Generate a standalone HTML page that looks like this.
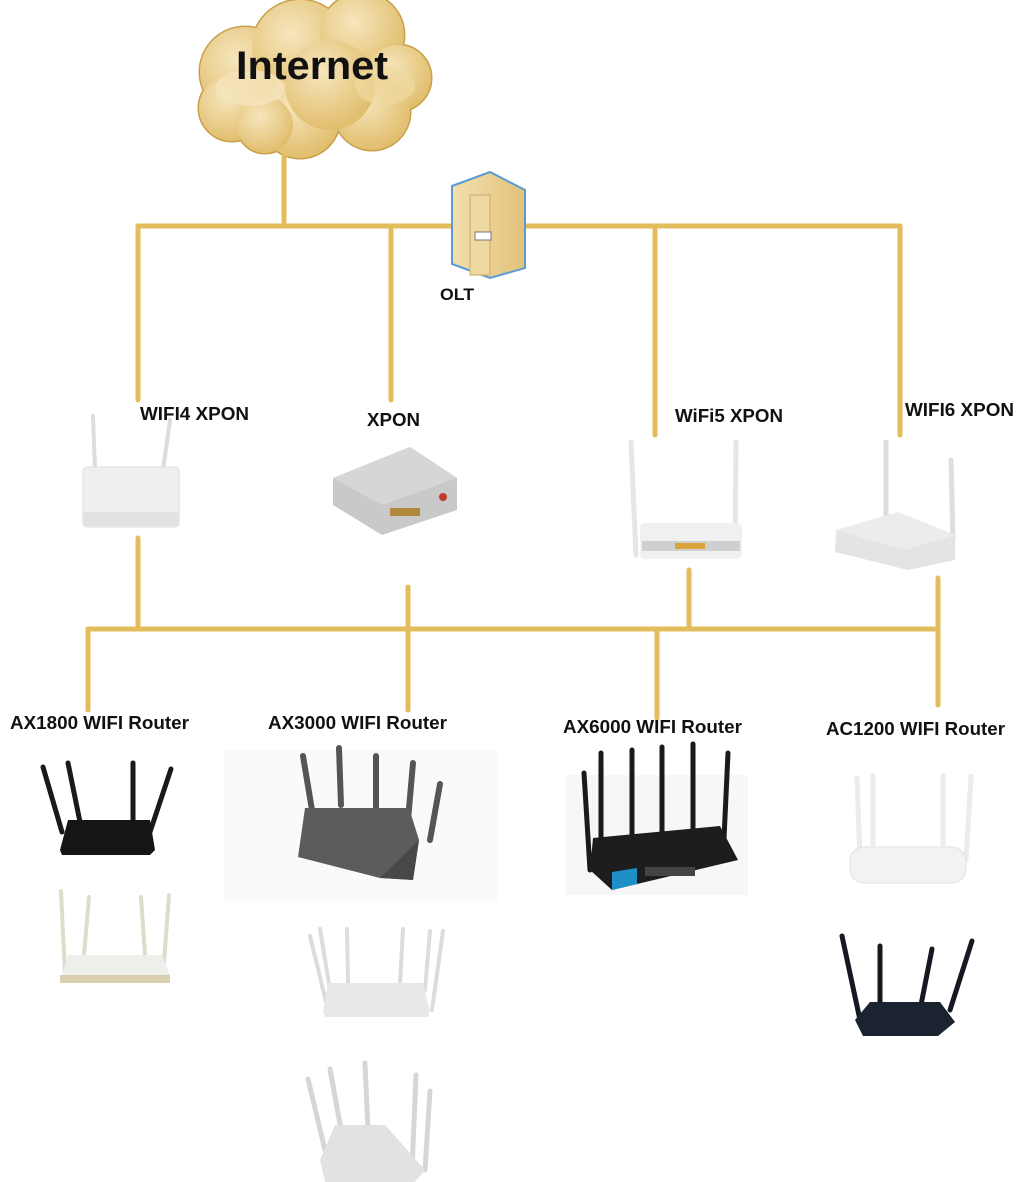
<!DOCTYPE html>
<html><head><meta charset="utf-8"><style>
html,body{margin:0;padding:0;background:#fff;}
svg{display:block}
text{font-family:"Liberation Sans",sans-serif;font-weight:bold;fill:#111}
</style></head><body>
<svg width="1024" height="1182" viewBox="0 0 1024 1182" xmlns="http://www.w3.org/2000/svg">
<defs>
<radialGradient id="cg" cx="0.4" cy="0.35" r="0.7"><stop offset="0" stop-color="#f6e6bd"/><stop offset="1" stop-color="#e0bb68"/></radialGradient>
<linearGradient id="og" x1="0" x2="1"><stop offset="0" stop-color="#f3dfae"/><stop offset="1" stop-color="#e2c27a"/></linearGradient>
</defs>
<!-- cloud -->
<g stroke="#c9a04a" stroke-width="3">
<circle cx="245" cy="72" r="45"/><circle cx="300" cy="48" r="48"/><circle cx="362" cy="35" r="42"/><circle cx="398" cy="78" r="33"/><circle cx="372" cy="112" r="38"/><circle cx="300" cy="118" r="40"/><circle cx="232" cy="108" r="33"/><circle cx="330" cy="85" r="45"/><circle cx="265" cy="125" r="28"/>
</g>
<g fill="url(#cg)">
<circle cx="245" cy="72" r="45"/><circle cx="300" cy="48" r="48"/><circle cx="362" cy="35" r="42"/><circle cx="398" cy="78" r="33"/><circle cx="372" cy="112" r="38"/><circle cx="300" cy="118" r="40"/><circle cx="232" cy="108" r="33"/><circle cx="330" cy="85" r="45"/><circle cx="265" cy="125" r="28"/>
</g>
<ellipse cx="250" cy="88" rx="35" ry="18" fill="#f5e4bb" opacity="0.8"/>
<ellipse cx="385" cy="85" rx="30" ry="20" fill="#f0d8a0" opacity="0.7"/>
<text x="236" y="79" font-size="40" textLength="152" lengthAdjust="spacingAndGlyphs">Internet</text>

<!-- lines -->
<g stroke="#e3bd5c" stroke-width="5" fill="none" stroke-linecap="round">
<path d="M284 156 V226"/>
<path d="M138 226 H900"/>
<path d="M138 226 V400"/><path d="M391 226 V400"/><path d="M655 226 V435"/><path d="M900 226 V435"/>
<path d="M88 629 H938"/>
<path d="M138 538 V629"/><path d="M408 587 V710"/><path d="M689 570 V629"/><path d="M938 578 V705"/>
<path d="M88 629 V710"/><path d="M657 629 V718"/>
</g>

<!-- OLT -->
<polygon points="452,186 490,172 525,190 525,268 490,278 452,264" fill="url(#og)" stroke="#5b9bd5" stroke-width="2"/>
<rect x="470" y="195" width="20" height="80" fill="#efd9a0" stroke="#c9a867"/>
<rect x="475" y="232" width="16" height="8" fill="#fff" stroke="#777"/>
<text x="440" y="300" font-size="17" textLength="34" lengthAdjust="spacingAndGlyphs">OLT</text>

<!-- labels -->
<g font-size="18">
<text x="140" y="420" textLength="109" lengthAdjust="spacingAndGlyphs">WIFI4 XPON</text>
<text x="367" y="426" textLength="53" lengthAdjust="spacingAndGlyphs">XPON</text>
<text x="675" y="422" textLength="108" lengthAdjust="spacingAndGlyphs">WiFi5 XPON</text>
<text x="905" y="416" textLength="109" lengthAdjust="spacingAndGlyphs">WIFI6 XPON</text>
<text x="10" y="729" textLength="179" lengthAdjust="spacingAndGlyphs">AX1800 WIFI Router</text>
<text x="268" y="729" textLength="179" lengthAdjust="spacingAndGlyphs">AX3000 WIFI Router</text>
<text x="563" y="733" textLength="179" lengthAdjust="spacingAndGlyphs">AX6000 WIFI Router</text>
<text x="826" y="735" textLength="179" lengthAdjust="spacingAndGlyphs">AC1200 WIFI Router</text>
</g>

<!-- WIFI4 XPON -->
<g stroke="#dcdcdc" stroke-width="4" stroke-linecap="round"><path d="M93 416 L95 470"/><path d="M170 420 L163 470"/></g>
<rect x="83" y="467" width="96" height="60" rx="4" fill="#efefef" stroke="#ddd"/>
<rect x="83" y="512" width="96" height="14" fill="#e2e2e2"/>
<!-- XPON -->
<polygon points="333,478 410,447 457,478 457,510 382,535 333,505" fill="#c9c9c9"/>
<polygon points="333,478 410,447 457,478 382,505" fill="#d6d6d6"/>
<rect x="390" y="508" width="30" height="8" fill="#b08a3a"/>
<circle cx="443" cy="497" r="4" fill="#c0392b"/>
<!-- WiFi5 -->
<g stroke="#e6e6e6" stroke-width="5" stroke-linecap="round"><path d="M631 442 L636 555"/><path d="M736 442 L735 555"/></g>
<rect x="640" y="523" width="102" height="36" rx="5" fill="#f0f0f0"/>
<rect x="642" y="541" width="98" height="10" fill="#cfcfcf"/>
<rect x="675" y="543" width="30" height="6" fill="#d9a53a"/>
<!-- WIFI6 -->
<g stroke="#dedede" stroke-width="5" stroke-linecap="round"><path d="M886 442 L886 520"/><path d="M951 460 L953 540"/></g>
<polygon points="836,530 898,512 955,535 955,560 908,570 835,552" fill="#e4e4e4"/>
<polygon points="836,530 898,512 955,535 905,550" fill="#ececec"/>

<!-- AX1800 black -->
<g stroke="#1a1a1a" stroke-width="5" stroke-linecap="round"><path d="M43 767 L62 832"/><path d="M68 763 L80 822"/><path d="M133 763 L133 822"/><path d="M171 769 L150 832"/></g>
<polygon points="68,820 150,820 155,850 150,855 62,855 60,850" fill="#151515"/>
<!-- AX1800 white -->
<g stroke="#e0dccc" stroke-width="4" stroke-linecap="round"><path d="M61 891 L65 975"/><path d="M89 897 L84 955"/><path d="M141 897 L145 955"/><path d="M169 895 L163 975"/></g>
<polygon points="68,955 162,955 170,975 168,983 60,983 62,975" fill="#eeeeea"/>
<rect x="60" y="975" width="110" height="8" fill="#d9cfae"/>

<!-- AX3000 gray -->
<rect x="224" y="750" width="273" height="153" fill="#fafafa"/>
<g stroke="#555" stroke-width="6" stroke-linecap="round"><path d="M303 756 L312 810"/><path d="M339 748 L341 805"/><path d="M376 756 L376 810"/><path d="M413 763 L408 820"/><path d="M440 784 L430 840"/></g>
<polygon points="305,808 409,808 419,840 413,880 380,878 298,857" fill="#5e5c5a"/>
<polygon points="380,878 419,840 413,880" fill="#4a4846"/>
<!-- AX3000 white -->
<g stroke="#dcdcdc" stroke-width="4" stroke-linecap="round"><path d="M310 936 L328 1010"/><path d="M320 929 L330 990"/><path d="M347 929 L348 985"/><path d="M403 929 L400 985"/><path d="M430 931 L425 990"/><path d="M443 931 L432 1010"/></g>
<polygon points="328,983 423,983 430,1012 428,1017 325,1017 323,1012" fill="#e8e8e8"/>
<!-- bottom white -->
<g stroke="#d6d6d6" stroke-width="5" stroke-linecap="round"><path d="M308 1079 L325 1150"/><path d="M330 1069 L342 1135"/><path d="M365 1063 L368 1130"/><path d="M416 1075 L412 1170"/><path d="M430 1091 L425 1170"/></g>
<polygon points="335,1125 385,1125 425,1170 415,1182 325,1182 320,1160" fill="#e2e2e2"/>

<!-- AX6000 -->
<rect x="566" y="775" width="182" height="120" fill="#f7f7f7"/>
<g stroke="#1a1a1a" stroke-width="5" stroke-linecap="round"><path d="M584 773 L590 870"/><path d="M601 753 L601 840"/><path d="M632 750 L632 840"/><path d="M662 747 L662 835"/><path d="M693 744 L693 835"/><path d="M728 753 L723 860"/></g>
<polygon points="593,838 720,826 738,860 612,890 590,870" fill="#1d1d1d"/>
<polygon points="612,872 637,868 637,884 612,890" fill="#1f8fc7"/>
<rect x="645" y="867" width="50" height="9" fill="#444"/>

<!-- AC1200 white -->
<g stroke="#ececec" stroke-width="5" stroke-linecap="round"><path d="M857 778 L860 860"/><path d="M873 776 L873 850"/><path d="M943 776 L943 850"/><path d="M971 776 L966 860"/></g>
<rect x="850" y="847" width="116" height="36" rx="14" fill="#f2f2f2" stroke="#e2e2e2"/>
<!-- AC1200 black -->
<g stroke="#151a22" stroke-width="5" stroke-linecap="round"><path d="M842 936 L860 1020"/><path d="M880 946 L880 1010"/><path d="M932 949 L920 1010"/><path d="M972 941 L950 1010"/></g>
<polygon points="870,1002 940,1002 955,1022 938,1036 863,1036 855,1020" fill="#1c2330"/>
</svg>
</body></html>
